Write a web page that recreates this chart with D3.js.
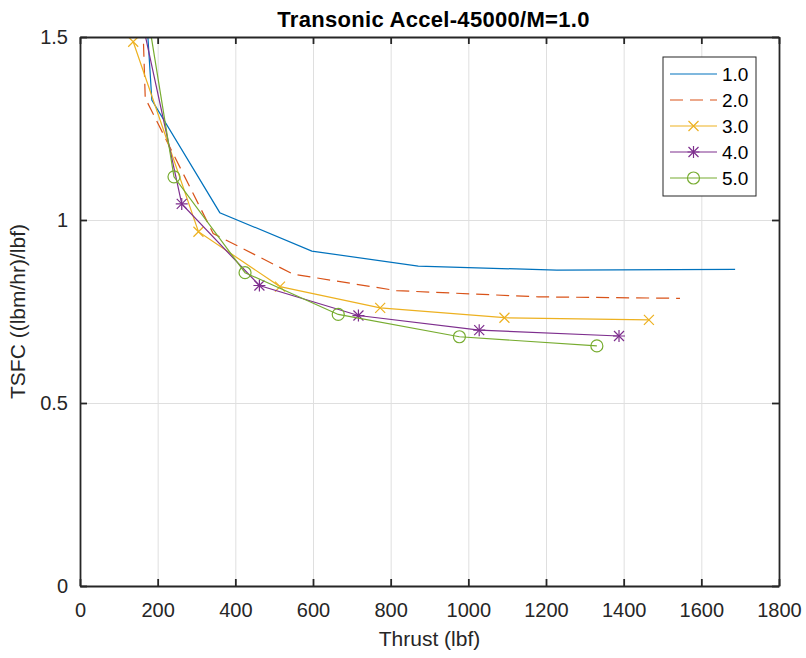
<!DOCTYPE html>
<html>
<head>
<meta charset="utf-8">
<script src="https://cdn.jsdelivr.net/npm/d3@7"></script>
<style>
  body { margin: 0; background: #fff; }
  svg { font-family: "Liberation Sans", Arial, sans-serif; }
</style>
</head>
<body>
<div id="chart"></div>
<script>
// values
var seriesNames = ["1.0", "2.0", "3.0", "4.0", "5.0"];
var thrust1 = [163, 185, 360, 597, 871, 1228, 1687];
var tsfc1   = [1.70, 1.328, 1.020, 0.915, 0.874, 0.863, 0.865];
var thrust2 = [157, 168, 343, 549, 815, 1180, 1545];
var tsfc2   = [1.70, 1.333, 0.963, 0.852, 0.807, 0.790, 0.786];
var thrust3 = [137, 305, 515, 773, 1093, 1465];
var tsfc3   = [1.487, 0.968, 0.818, 0.760, 0.733, 0.727];
var thrust4 = [128, 262, 462, 717, 1028, 1388];
var tsfc4   = [1.70, 1.044, 0.821, 0.739, 0.699, 0.683];
var thrust5 = [150, 242, 425, 665, 977, 1331];
var tsfc5   = [1.72, 1.118, 0.856, 0.742, 0.681, 0.656];
var xTicks = [0, 200, 400, 600, 800, 1000, 1200, 1400, 1600, 1800];
var yTicks = [0, 0.5, 1, 1.5];

var colors = ["#0072BD", "#D95319", "#EDB120", "#7E2F8E", "#77AC30"];
var markers = ["none", "none", "x", "star", "circle"];
var dashes = [null, "13,7", null, null, null];

var allThrust = [thrust1, thrust2, thrust3, thrust4, thrust5];
var allTsfc = [tsfc1, tsfc2, tsfc3, tsfc4, tsfc5];
var series = seriesNames.map(function(name, i) {
  return {
    name: name,
    color: colors[i],
    marker: markers[i],
    dash: dashes[i],
    points: allThrust[i].map(function(t, j) { return {x: t, y: allTsfc[i][j]}; })
  };
});

var W = 806, H = 658;
var margin = {top: 37, right: 27, bottom: 72, left: 80};
var width = W - margin.left - margin.right;
var height = H - margin.top - margin.bottom;
var axisColor = "#262626";

var x = d3.scaleLinear().domain([0, 1800]).range([0, width]);
var y = d3.scaleLinear().domain([0, 1.5]).range([height, 0]);

var svg = d3.select("#chart").append("svg")
    .attr("width", W)
    .attr("height", H);

var g = svg.append("g")
    .attr("transform", "translate(" + margin.left + "," + margin.top + ")");

svg.append("defs").append("clipPath")
    .attr("id", "plotClip")
  .append("rect")
    .attr("width", width)
    .attr("height", height);

// grid
g.append("g")
    .attr("class", "xgrid")
    .attr("transform", "translate(0," + height + ")")
    .call(d3.axisBottom(x).tickValues(xTicks).tickSize(-height).tickFormat(""))
    .call(function(s) {
      s.select(".domain").remove();
      s.selectAll("line").attr("stroke", "#dfdfdf").attr("stroke-width", 1);
    });
g.append("g")
    .attr("class", "ygrid")
    .call(d3.axisLeft(y).tickValues(yTicks).tickSize(-width).tickFormat(""))
    .call(function(s) {
      s.select(".domain").remove();
      s.selectAll("line").attr("stroke", "#dfdfdf").attr("stroke-width", 1);
    });

// lines and markers
var line = d3.line()
    .x(function(d) { return x(d.x); })
    .y(function(d) { return y(d.y); });

var plot = g.append("g").attr("clip-path", "url(#plotClip)");

function drawMarker(sel, type, color) {
  var s = 5;
  if (type === "x" || type === "star") {
    sel.append("path")
        .attr("d", "M" + (-s) + "," + (-s) + "L" + s + "," + s +
                   "M" + (-s) + "," + s + "L" + s + "," + (-s))
        .attr("stroke", color).attr("stroke-width", 1.2).attr("fill", "none");
  }
  if (type === "star") {
    sel.append("path")
        .attr("d", "M0," + (-s - 1) + "L0," + (s + 1) + "M" + (-s - 1) + ",0L" + (s + 1) + ",0")
        .attr("stroke", color).attr("stroke-width", 1.2).attr("fill", "none");
  }
  if (type === "circle") {
    sel.append("circle")
        .attr("r", 6)
        .attr("stroke", color).attr("stroke-width", 1.2).attr("fill", "none");
  }
}

series.forEach(function(sr) {
  plot.append("path")
      .datum(sr.points)
      .attr("fill", "none")
      .attr("stroke", sr.color)
      .attr("stroke-width", 1.2)
      .attr("stroke-dasharray", sr.dash)
      .attr("d", line);

  if (sr.marker !== "none") {
    plot.selectAll(null)
        .data(sr.points)
        .enter().append("g")
        .attr("transform", function(d) { return "translate(" + x(d.x) + "," + y(d.y) + ")"; })
        .each(function() { drawMarker(d3.select(this), sr.marker, sr.color); });
  }
});

// axes, inward ticks on all four sides
function styleAxis(s) {
  s.select(".domain").attr("stroke", axisColor).attr("stroke-width", 1.8);
  s.selectAll(".tick line").attr("stroke", axisColor).attr("stroke-width", 1.8);
  s.selectAll(".tick text").attr("fill", axisColor).style("font-size", "20px");
}

var plain = function(d) { return String(d); };

g.append("g")
    .attr("class", "xaxis")
    .attr("transform", "translate(0," + height + ")")
    .call(d3.axisBottom(x).tickValues(xTicks).tickSizeInner(-7).tickSizeOuter(0).tickPadding(17)
      .tickFormat(plain))
    .call(styleAxis);

g.append("g")
    .attr("class", "xaxis-top")
    .call(d3.axisTop(x).tickValues(xTicks).tickSizeInner(-7).tickSizeOuter(0).tickFormat(""))
    .call(styleAxis);

g.append("g")
    .attr("class", "yaxis")
    .call(d3.axisLeft(y).tickValues(yTicks).tickSizeInner(-7).tickSizeOuter(0).tickPadding(12)
      .tickFormat(plain))
    .call(styleAxis);

g.append("g")
    .attr("class", "yaxis-right")
    .attr("transform", "translate(" + width + ",0)")
    .call(d3.axisRight(y).tickValues(yTicks).tickSizeInner(-7).tickSizeOuter(0).tickFormat(""))
    .call(styleAxis);

// title and labels
svg.append("text")
    .attr("x", margin.left + width / 2 + 4)
    .attr("y", 27)
    .attr("text-anchor", "middle")
    .attr("fill", "#000")
    .style("font-size", "22px")
    .style("font-weight", "bold")
    .style("letter-spacing", "0.3px")
    .text("Transonic Accel-45000/M=1.0");

svg.append("text")
    .attr("x", margin.left + width / 2)
    .attr("y", 646)
    .attr("text-anchor", "middle")
    .attr("fill", axisColor)
    .style("font-size", "21px")
    .text("Thrust (lbf)");

svg.append("text")
    .attr("transform", "translate(25," + (margin.top + height / 2) + ") rotate(-90)")
    .attr("text-anchor", "middle")
    .attr("fill", axisColor)
    .style("font-size", "21px")
    .text("TSFC ((lbm/hr)/lbf)");

// legend
var legend = svg.append("g")
    .attr("transform", "translate(663,57)");

legend.append("rect")
    .attr("width", 93)
    .attr("height", 139)
    .attr("fill", "#fff")
    .attr("stroke", axisColor)
    .attr("stroke-width", 1);

var item = legend.selectAll("g.item")
    .data(series)
    .enter().append("g")
    .attr("class", "item")
    .attr("transform", function(d, i) { return "translate(0," + (17 + i * 26) + ")"; });

item.append("line")
    .attr("x1", 7).attr("x2", 54)
    .attr("stroke", function(d) { return d.color; })
    .attr("stroke-width", 1.2)
    .attr("stroke-dasharray", function(d) { return d.dash; });

item.each(function(d) {
  if (d.marker !== "none") {
    drawMarker(d3.select(this).append("g").attr("transform", "translate(30.5,0)"), d.marker, d.color);
  }
});

item.append("text")
    .attr("x", 59)
    .attr("dy", "0.36em")
    .attr("fill", "#000")
    .style("font-size", "19px")
    .text(function(d) { return d.name; });
</script>
</body>
</html>
